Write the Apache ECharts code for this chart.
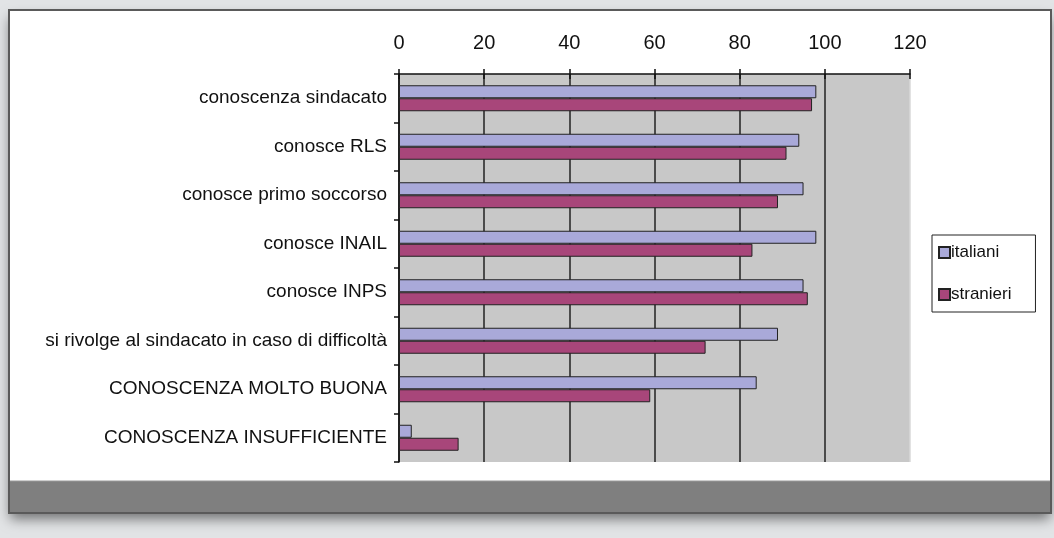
<!DOCTYPE html>
<html>
<head>
<meta charset="utf-8">
<script src="https://cdn.jsdelivr.net/npm/echarts@6/dist/echarts.min.js"></script>
<style>
  html, body { margin: 0; padding: 0; background: #e2e4e6; }
  #chart { width: 1054px; height: 538px; }
</style>
</head>
<body>
<div id="chart"></div>
<script>
// Survey categories, top to bottom
const categories = [
  'conoscenza sindacato',
  'conosce RLS',
  'conosce primo soccorso',
  'conosce INAIL',
  'conosce INPS',
  'si rivolge al sindacato in caso di difficoltà',
  'CONOSCENZA MOLTO BUONA',
  'CONOSCENZA INSUFFICIENTE'
];
// Percentages for each group
const italiani = [98, 94, 95, 98, 95, 89, 84, 3];
const stranieri = [97, 91, 89, 83, 96, 72, 59, 14];
const xTicks = [0, 20, 40, 60, 80, 100, 120];

const chart = echarts.init(document.getElementById('chart'), null, { renderer: 'canvas' });

const font = 'Liberation Sans, Arial, sans-serif';
const axisCommon = {
  type: 'value',
  position: 'top',
  min: xTicks[0],
  max: xTicks[xTicks.length - 1],
  interval: xTicks[1] - xTicks[0]
};
// dark gridlines, the outermost one fades into the plot fill
const gridColors = xTicks.map((t, i) => i === xTicks.length - 1 ? '#d8d8d8' : '#222');

chart.setOption({
  animation: false,
  backgroundColor: '#e2e4e6',
  graphic: [
    // drop shadow under the card
    { type: 'rect', z: -11, shape: { x: 10, y: 11, width: 1040, height: 501 },
      style: { fill: '#ffffff', shadowBlur: 12, shadowColor: 'rgba(0,0,0,0.5)', shadowOffsetY: 7 } },
    // white card with dark frame
    { type: 'rect', z: -10, shape: { x: 9, y: 10, width: 1042, height: 503 },
      style: { fill: '#ffffff', stroke: '#5a5a5a', lineWidth: 2 } },
    // grey footer band
    { type: 'rect', z: -9, shape: { x: 10, y: 481, width: 1040, height: 31 },
      style: { fill: '#7f7f7f' } },
    { type: 'line', z: -8, shape: { x1: 10, y1: 481, x2: 1050, y2: 481 },
      style: { stroke: '#9a9a9a', lineWidth: 1 } }
  ],
  grid: {
    left: 399, right: 144, top: 74, bottom: 76,
    show: true, backgroundColor: '#c8c8c8', borderWidth: 0
  },
  legend: {
    orient: 'vertical',
    left: 932, top: 235,
    padding: [9, 24, 9, 6],
    itemGap: 25,
    itemWidth: 11, itemHeight: 11,
    borderColor: '#222', borderWidth: 1,
    icon: 'rect',
    textStyle: { fontFamily: font, fontSize: 17, color: '#111', padding: [0, 0, 0, -4] },
    data: ['italiani', 'stranieri']
  },
  xAxis: [
    Object.assign({}, axisCommon, {
      axisLine: { show: true, lineStyle: { color: '#111', width: 1.5 } },
      axisTick: { show: true, length: 5, lineStyle: { color: '#111', width: 1.5 } },
      axisLabel: { fontFamily: font, fontSize: 20, color: '#111', margin: 21 },
      splitLine: { show: true, lineStyle: { color: gridColors, width: 1.5 } }
    }),
    // inner half of the crossing tick marks
    Object.assign({}, axisCommon, {
      axisLine: { show: false },
      axisTick: { show: true, inside: true, length: 5, lineStyle: { color: '#111', width: 1.5 } },
      axisLabel: { show: false },
      splitLine: { show: false }
    })
  ],
  yAxis: {
    type: 'category',
    inverse: true,
    data: categories,
    axisLine: { show: true, lineStyle: { color: '#111', width: 1.5 } },
    axisTick: { show: true, length: 5, lineStyle: { color: '#111', width: 1.5 } },
    axisLabel: { fontFamily: font, fontSize: 19, color: '#111', margin: 12 },
    splitLine: { show: false }
  },
  series: [
    {
      name: 'italiani', type: 'bar', data: italiani,
      barWidth: 13, barGap: '0%',
      itemStyle: { color: '#a9a9d9', borderColor: '#222', borderWidth: 1 }
    },
    {
      name: 'stranieri', type: 'bar', data: stranieri,
      barWidth: 13, barGap: '0%',
      itemStyle: { color: '#a8467a', borderColor: '#222', borderWidth: 1 }
    }
  ]
});
</script>
</body>
</html>
